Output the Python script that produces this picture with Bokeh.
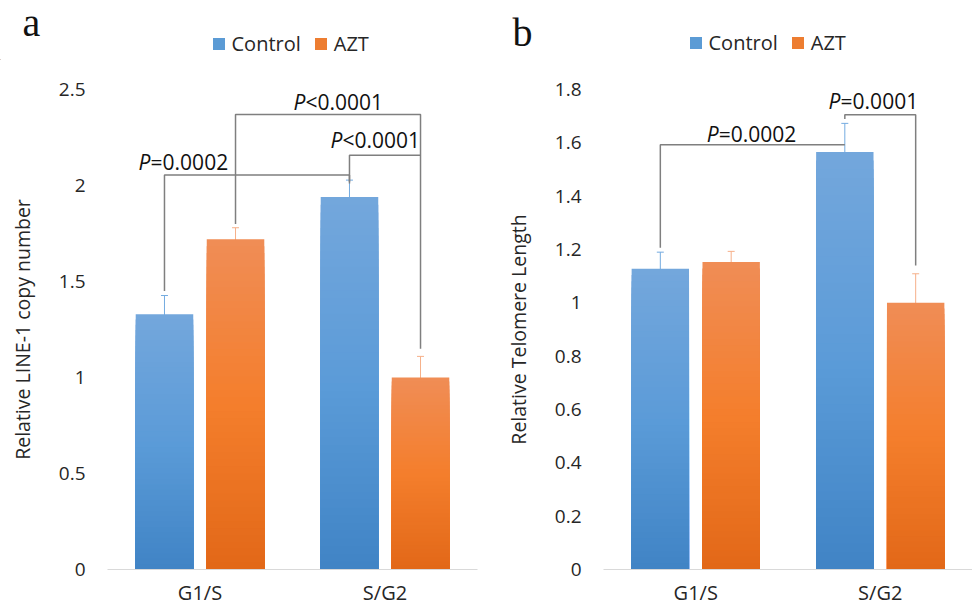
from bokeh.plotting import figure
from bokeh.models import (ColumnDataSource, FixedTicker, NumeralTickFormatter, Whisker, TeeHead,
                          Legend, LegendItem, Range1d)
from bokeh.layouts import row, column
from bokeh.core.properties import value
from bokeh.embed import file_html
from bokeh.resources import INLINE

# ---------------- data ----------------
categories = ["G1/S", "S/G2"]
series = ["Control", "AZT"]

# panel a: Relative LINE-1 copy number
line1_control = [1.33, 1.94]
line1_control_err = [0.097, 0.088]
line1_azt = [1.72, 1.00]
line1_azt_err = [0.060, 0.110]
line1_ticks = [0, 0.5, 1, 1.5, 2, 2.5]

# panel b: Relative Telomere Length
telo_control = [1.128, 1.566]
telo_control_err = [0.062, 0.107]
telo_azt = [1.153, 1.00]
telo_azt_err = [0.040, 0.109]
telo_ticks = [0, 0.2, 0.4, 0.6, 0.8, 1, 1.2, 1.4, 1.6, 1.8]

# significance brackets: (cat, series) of left/right legs, leg bottoms, bar level,
# p text with its left x and vertical centre
line1_brackets = [
    dict(left=(0, 0), right=(1, 0), y_left=1.45, y_right=2.01, y_top=2.055,
         text="=0.0002", sym="P", lx=0.168, ly=2.121),
    dict(left=(0, 1), right=(1, 1), y_left=1.80, y_right=1.15, y_top=2.37,
         text="<0.0001", sym="P", lx=1.005, ly=2.434),
    dict(left=(1, 0), right=(1, 1), y_left=2.02, y_right=2.158, y_top=2.158,
         text="<0.0001", sym="P", lx=1.205, ly=2.236),
]
telo_brackets = [
    dict(left=(0, 0), right=(1, 0), y_left=1.207, y_right=1.593, y_top=1.593,
         text="=0.0002", sym="P", lx=0.56, ly=1.633),
    dict(left=(1, 0), right=(1, 1), y_left=1.689, y_right=1.14, y_top=1.705,
         text="=0.0001", sym="P", lx=1.22, ly=1.757),
]

# ---------------- style ----------------
FONT = "Open Sans"
TXT = "#262626"
OFFSET = [-0.192, 0.192]
BAR_W = 0.311
N = 48
BLUE = [(64, 132, 197), (91, 155, 216), (116, 167, 220)]    # bottom, mid, top
ORANGE = [(226, 104, 24), (244, 126, 44), (240, 141, 86)]
BLUE_MID = "#5b9bd5"
ORANGE_MID = "#ed7d31"
ERR_BLUE = "#74abe0"
ERR_ORANGE = "#f6b089"
BRACKET = "#7f7f7f"
HEADER_W = 972
HEADER_H = 60
TOTAL_H = 609


def grad(stops, t):
    if t < 0.5:
        a, b, f = stops[0], stops[1], t / 0.5
    else:
        a, b, f = stops[1], stops[2], (t - 0.5) / 0.5
    c = [int(round(a[i] + (b[i] - a[i]) * f)) for i in range(3)]
    return "#%02x%02x%02x" % tuple(c)


def xpos(cat, s):
    return cat + 0.5 + OFFSET[s]


def add_bars(p, vals, s, stops):
    xs, tops, cols = [], [], []
    for i, v in enumerate(vals):
        for k in range(N - 1, -1, -1):
            xs.append(xpos(i, s))
            tops.append(v * (k + 1) / N)
            cols.append(grad(stops, (k + 0.5) / N))
    p.vbar(x=xs, top=tops, bottom=0, width=BAR_W, fill_color=cols, line_color=None)


def add_err(p, vals, errs, s, color):
    src = ColumnDataSource(dict(
        base=[xpos(i, s) for i in range(len(vals))],
        upper=[v + e for v, e in zip(vals, errs)],
        lower=[v - e for v, e in zip(vals, errs)],
    ))
    w = Whisker(source=src, base="base", upper="upper", lower="lower", dimension="height",
                line_color=color, line_width=1,
                upper_head=TeeHead(size=7, line_color=color, line_width=1),
                lower_head=TeeHead(size=7, line_color=color, line_width=1))
    p.add_layout(w)


def add_brackets(p, brackets):
    xs, ys = [], []
    for b in brackets:
        x1 = xpos(*b["left"])
        x2 = xpos(*b["right"])
        xs.append([x1, x1, x2, x2])
        ys.append([b["y_left"], b["y_top"], b["y_top"], b["y_right"]])
    p.multi_line(xs=xs, ys=ys, line_color=BRACKET, line_width=1.5)
    for b in brackets:
        p.text(x=[b["lx"]], y=[b["ly"]], text=[b["sym"]], text_font=value(FONT),
               text_font_style="italic", text_font_size="21px", text_color="#111111",
               text_align="left", text_baseline="middle")
        p.text(x=[b["lx"]], y=[b["ly"]], text=[b["text"]], x_offset=12, text_font=value(FONT),
               text_font_size="21px", text_color="#111111",
               text_align="left", text_baseline="middle")


def make_panel(width, border_left, border_right, ymax, ticks, ylabel, control, control_err,
               azt, azt_err, brackets):
    p = figure(width=width, height=TOTAL_H - HEADER_H, output_backend="svg",
               toolbar_location=None, title=None, x_range=Range1d(0, 2), y_range=Range1d(0, ymax),
               min_border_left=border_left, min_border_right=border_right,
               min_border_top=29, min_border_bottom=40)
    p.outline_line_color = None
    p.xgrid.grid_line_color = None
    p.ygrid.grid_line_color = None

    add_bars(p, control, 0, BLUE)
    add_bars(p, azt, 1, ORANGE)
    add_err(p, control, control_err, 0, ERR_BLUE)
    add_err(p, azt, azt_err, 1, ERR_ORANGE)
    add_brackets(p, brackets)

    p.yaxis.ticker = FixedTicker(ticks=ticks)
    p.yaxis.formatter = NumeralTickFormatter(format="0.[0]")
    p.yaxis.axis_line_color = None
    p.yaxis.major_tick_line_color = None
    p.yaxis.major_tick_out = 0
    p.yaxis.major_tick_in = 0
    p.yaxis.minor_tick_line_color = None
    p.yaxis.minor_tick_out = 0
    p.yaxis.major_label_standoff = 22
    p.yaxis.major_label_text_font = FONT
    p.yaxis.major_label_text_font_size = "19px"
    p.yaxis.major_label_text_color = TXT
    p.yaxis.axis_label = ylabel
    p.yaxis.axis_label_standoff = 20
    p.yaxis.axis_label_text_font = FONT
    p.yaxis.axis_label_text_font_size = "19.5px"
    p.yaxis.axis_label_text_font_style = "normal"
    p.yaxis.axis_label_text_color = TXT

    p.xaxis.ticker = FixedTicker(ticks=[0.5, 1.5])
    p.xaxis.major_label_overrides = {i + 0.5: c for i, c in enumerate(categories)}
    p.xaxis.axis_line_color = "#d9d9d9"
    p.xaxis.axis_line_width = 1
    p.xaxis.major_tick_line_color = None
    p.xaxis.major_tick_out = 0
    p.xaxis.major_tick_in = 0
    p.xaxis.minor_tick_line_color = None
    p.xaxis.minor_tick_out = 0
    p.xaxis.major_label_standoff = 9
    p.xaxis.major_label_text_font = FONT
    p.xaxis.major_label_text_font_size = "20px"
    p.xaxis.major_label_text_color = TXT
    return p


# header strip (pixel coordinates) holding the panel letters and the legends
header = figure(width=HEADER_W, height=HEADER_H, output_backend="svg", toolbar_location=None,
                title=None, x_range=Range1d(0, HEADER_W), y_range=Range1d(0, HEADER_H),
                x_axis_type=None, y_axis_type=None, min_border=0)
header.outline_line_color = None
header.xgrid.grid_line_color = None
header.ygrid.grid_line_color = None


def add_header_items(h, letter, letter_xy, legend_pos):
    h.text(x=[letter_xy[0]], y=[letter_xy[1]], text=[letter], text_font=value("Liberation Serif"),
           text_font_size="40px", text_color="#111111", text_align="left",
           text_baseline="middle")
    rc = h.vbar(x=[-100], top=[1], width=1, fill_color=BLUE_MID, line_color=None)
    ra = h.vbar(x=[-100], top=[1], width=1, fill_color=ORANGE_MID, line_color=None)
    leg = Legend(items=[LegendItem(label=series[0], renderers=[rc]),
                        LegendItem(label=series[1], renderers=[ra])],
                 orientation="horizontal", location=legend_pos, padding=0, margin=0,
                 spacing=12, glyph_width=15, glyph_height=15, label_standoff=6,
                 label_height=20, label_text_font=FONT, label_text_font_size="20px",
                 label_text_color=TXT, border_line_color=None, background_fill_alpha=0)
    h.add_layout(leg)


add_header_items(header, "a", (22, 38.5), (210.5, 3))
add_header_items(header, "b", (512, 28.5), (687.5, 4.5))

pa = make_panel(485, 107, 8, 2.5, line1_ticks, "Relative LINE-1 copy number",
                line1_control, line1_control_err, line1_azt, line1_azt_err, line1_brackets)
pb = make_panel(487, 118, 0, 1.8, telo_ticks, "Relative Telomere Length",
                telo_control, telo_control_err, telo_azt, telo_azt_err, telo_brackets)

layout = column(header, row(pa, pb))
open("out.html", "w").write(file_html(layout, INLINE))
